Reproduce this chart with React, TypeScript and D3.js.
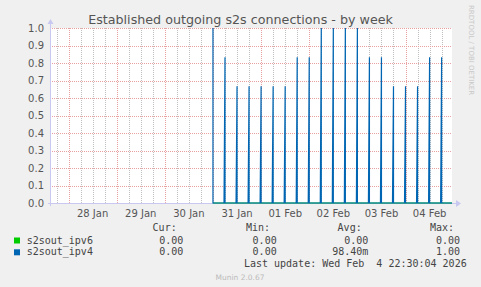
import React from "react";
import * as d3 from "d3";

const W = 481;
const H = 287;

// Data
const yTicks = [0, 0.1, 0.2, 0.3, 0.4, 0.5, 0.6, 0.7, 0.8, 0.9, 1.0];
const dayLabels = ["28 Jan", "29 Jan", "30 Jan", "31 Jan", "01 Feb", "02 Feb", "03 Feb", "04 Feb"];
const dayStarts = [
  "2026-01-28T00:00Z", "2026-01-29T00:00Z", "2026-01-30T00:00Z", "2026-01-31T00:00Z",
  "2026-02-01T00:00Z", "2026-02-02T00:00Z", "2026-02-03T00:00Z", "2026-02-04T00:00Z",
];
const spikeTimes = [
  "2026-01-31T00:00Z", "2026-01-31T06:00Z", "2026-01-31T12:00Z", "2026-01-31T18:00Z",
  "2026-02-01T00:00Z", "2026-02-01T06:00Z", "2026-02-01T12:00Z", "2026-02-01T18:00Z",
  "2026-02-02T00:00Z", "2026-02-02T06:00Z", "2026-02-02T12:00Z", "2026-02-02T18:00Z",
  "2026-02-03T00:00Z", "2026-02-03T06:00Z", "2026-02-03T12:00Z", "2026-02-03T18:00Z",
  "2026-02-04T00:00Z", "2026-02-04T06:00Z", "2026-02-04T12:00Z", "2026-02-04T18:00Z",
];
const ipv4Values = [
  1.0, 0.833, 0.667, 0.667, 0.667, 0.667, 0.667, 0.833, 0.833, 1.0,
  1.0, 1.0, 1.0, 0.833, 0.833, 0.667, 0.667, 0.667, 0.833, 0.833,
];
const dataEnd = "2026-02-04T23:10Z";
const viewStart = "2026-01-27T15:15Z";
const viewEnd = "2026-02-04T23:10Z";

const seriesNames = ["s2sout_ipv6", "s2sout_ipv4"];
const seriesColors = ["#00cc00", "#0066b3"];
const curVals = ["0.00", "0.00"];
const minVals = ["0.00", "0.00"];
const avgVals = ["0.00", "98.40m"];
const maxVals = ["0.00", "1.00"];

const L = 51, R = 452, T = 28, B = 203;

export default function App() {
  const x = d3.scaleUtc().domain([new Date(viewStart), new Date(viewEnd)]).range([L, R]);
  const y = d3.scaleLinear().domain([0, 1]).range([B, T]);
  const halfHour = 30 * 60 * 1000;
  const sixH = 6 * 3600 * 1000;

  type P = [number, number];
  const pts: P[] = [];
  spikeTimes.forEach((s, i) => {
    const t = new Date(s).getTime();
    if (i > 0) pts.push([t - halfHour, 0]);
    pts.push([t, ipv4Values[i]]);
    pts.push([t, 0]);
  });
  pts.push([new Date(dataEnd).getTime(), 0]);
  const line = d3.line<P>().x((d) => x(new Date(d[0]))).y((d) => y(d[1]));
  const t0 = new Date(spikeTimes[0]).getTime();
  const ipv6Pts: P[] = [[t0, 0], [new Date(dataEnd).getTime(), 0]];

  const minor: number[] = [];
  const first = new Date(dayStarts[0]).getTime() - sixH * 4;
  for (let t = first; t <= new Date(viewEnd).getTime(); t += sixH) {
    const px = x(new Date(t));
    if (px > L + 1 && px < R) minor.push(t);
  }
  const major = dayStarts.map((d) => new Date(d).getTime());

  const rd = (v: number) => Math.round(v);
  const cr = (v: number) => Math.round(v) + 0.5;
  const font = "'DejaVu Sans', sans-serif";
  const mono = "'DejaVu Sans Mono', monospace";

  return (
    <svg width={W} height={H} style={{ position: "absolute", left: 0, top: 0, background: "#f0f0f0" }}>
      <defs>
        <pattern id="hred" patternUnits="userSpaceOnUse" width={2} height={1}>
          <rect x={0} y={0} width={1} height={1} fill="#e8a0a0" />
        </pattern>
        <pattern id="vred" patternUnits="userSpaceOnUse" width={1} height={2}>
          <rect x={0} y={0} width={1} height={1} fill="#e8a0a0" />
        </pattern>
        <pattern id="vgrey" patternUnits="userSpaceOnUse" width={1} height={2}>
          <rect x={0} y={0} width={1} height={1} fill="#bfbfbf" />
        </pattern>
      </defs>
      <rect x={0} y={0} width={W} height={H} fill="#f0f0f0" />
      <rect x={L} y={T} width={R - L} height={B - T} fill="#ffffff" />
      <g shapeRendering="crispEdges">
        {minor.filter((t) => !major.includes(t)).map((t) => (
          <rect key={"mi" + t} x={rd(x(new Date(t)))} y={T} width={1} height={B - T} fill="url(#vgrey)" />
        ))}
        {yTicks.map((v) => (
          <rect key={"h" + v} x={L} y={rd(y(v))} width={R - L} height={1} fill="url(#hred)" />
        ))}
        {major.map((t) => (
          <rect key={"ma" + t} x={rd(x(new Date(t)))} y={T} width={1} height={B - T} fill="url(#vred)" />
        ))}
      </g>
      {yTicks.map((v) => (
        <text key={"yl" + v} x={44} y={y(v) + 3.5} textAnchor="end" fontFamily={font} fontSize={10} fill="#555">
          {v.toFixed(1)}
        </text>
      ))}
      {dayLabels.map((lab, i) => (
        <text key={lab} x={x(new Date(major[i] + 12 * 3600 * 1000))} y={216.5} textAnchor="middle"
          fontFamily={font} fontSize={10} fill="#555">
          {lab}
        </text>
      ))}
      <g shapeRendering="crispEdges">
        <line x1={48} x2={456} y1={cr(B)} y2={cr(B)} stroke="#c8c8f0" strokeWidth={1} />
        <line x1={cr(L) - 1} x2={cr(L) - 1} y1={206} y2={24} stroke="#c8c8f0" strokeWidth={1} />
      </g>
      <path d={`M456,${B - 3} L461,${B + 0.5} L456,${B + 4} Z`} fill="#c8c8f0" />
      <path d={`M${L - 3.5},24 L${L - 0.5},19 L${L + 2.5},24 Z`} fill="#c8c8f0" />
      <path d={line(ipv6Pts) || ""} fill="none" stroke={seriesColors[0]} strokeWidth={1} />
      <path d={line(pts) || ""} fill="none" stroke={seriesColors[1]} strokeWidth={1.2} />
      <text x={240.5} y={24} textAnchor="middle" fontFamily={font} fontSize={12.7} fill="#555">
        Established outgoing s2s connections - by week
      </text>
      <text transform="translate(468.5,5) rotate(90)" fontFamily={font} fontSize={7} fill="#c8c8c8">
        RRDTOOL / TOBI OETIKER
      </text>
      <g fontFamily={mono} fontSize={10} fill="#444" style={{ whiteSpace: "pre" }}>
        <text x={176.7} y={231} textAnchor="end">Cur:</text>
        <text x={270} y={231} textAnchor="end">Min:</text>
        <text x={361.7} y={231} textAnchor="end">Avg:</text>
        <text x={454} y={231} textAnchor="end">Max:</text>
        {seriesNames.map((n, i) => {
          const yy = 243.5 + i * 11.8;
          return (
            <g key={n}>
              <rect x={14} y={yy - 6} width={6} height={6} fill={seriesColors[i]} />
              <text x={26.7} y={yy}>{n}</text>
              <text x={183.3} y={yy} textAnchor="end">{curVals[i]}</text>
              <text x={276.7} y={yy} textAnchor="end">{minVals[i]}</text>
              <text x={368.3} y={yy} textAnchor="end">{avgVals[i]}</text>
              <text x={460} y={yy} textAnchor="end">{maxVals[i]}</text>
            </g>
          );
        })}
        <text x={466.7} y={266.5} textAnchor="end" xmlSpace="preserve">{"Last update: Wed Feb  4 22:30:04 2026"}</text>
      </g>
      <text x={240} y={279.5} textAnchor="middle" fontFamily={font} fontSize={7.5} fill="#bbbbbb">
        Munin 2.0.67
      </text>
    </svg>
  );
}
